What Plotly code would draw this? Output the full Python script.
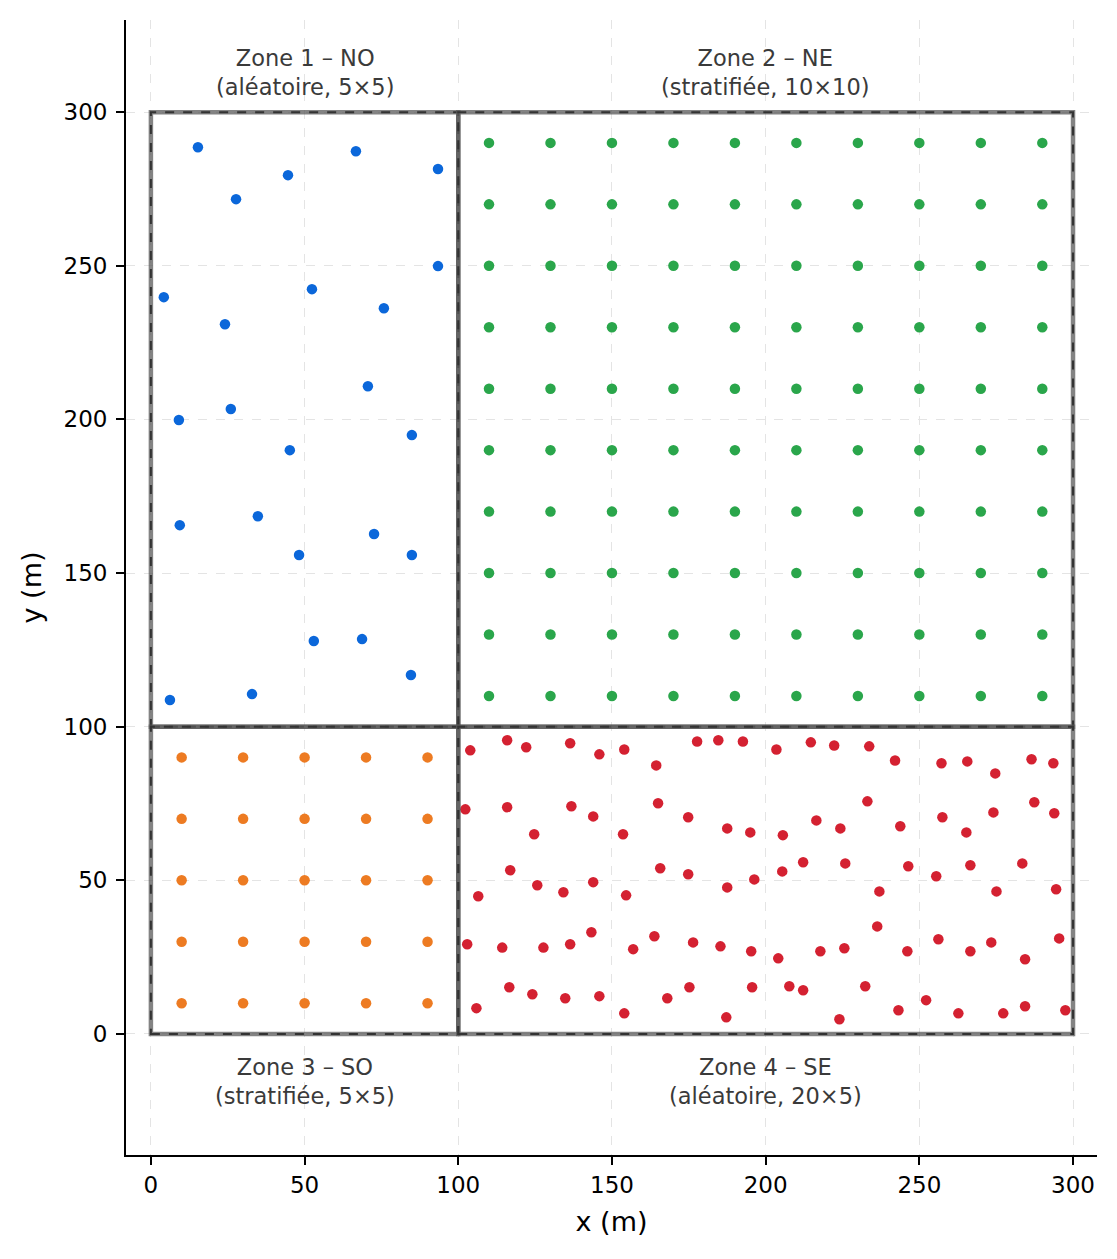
import plotly.graph_objects as go

# Zone 1 - random sampling (25 points)
z1_x = [15.3, 27.7, 44.6, 66.7, 93.4, 93.4, 4.2, 24.1, 52.4, 75.8, 70.6, 26.0, 9.1,
        45.2, 84.9, 9.4, 34.8, 48.2, 72.6, 84.9, 53.0, 68.7, 84.6, 6.2, 32.9]
z1_y = [288.6, 271.7, 279.5, 287.3, 281.5, 249.9, 239.8, 231.0, 242.4, 236.2, 210.8, 203.4, 199.8,
        190.0, 194.9, 165.6, 168.5, 155.9, 162.7, 155.9, 127.9, 128.5, 116.8, 108.7, 110.6]

# Zone 2 - stratified 10x10 grid
z2_cols = [110, 130, 150, 170, 190, 210, 230, 250, 270, 290]
z2_rows = [110, 130, 150, 170, 190, 210, 230, 250, 270, 290]

# Zone 3 - stratified 5x5 grid
z3_cols = [10, 30, 50, 70, 90]
z3_rows = [10, 30, 50, 70, 90]

# Zone 4 - random sampling (100 points)
z4_x = [103.9, 115.9, 122.1, 136.4, 145.9, 154.0, 164.4, 177.7, 184.6, 192.6,
        102.3, 115.9, 136.8, 143.9, 124.7, 153.6, 165.0, 174.8, 187.5, 195.0,
        116.9, 106.5, 125.7, 134.2, 143.9, 154.6, 165.7, 174.8, 187.5, 196.3,
        102.9, 114.3, 127.7, 136.4, 143.3, 156.9, 163.8, 176.4, 185.3, 195.3,
        105.9, 116.6, 124.1, 134.8, 145.9, 154.0, 168.0, 175.2, 187.2, 195.6,
        203.5, 214.7, 222.3, 233.7, 242.1, 257.2, 265.6, 274.7, 286.5, 293.6,
        205.6, 216.5, 224.3, 233.1, 243.8, 257.5, 265.3, 274.1, 287.4, 293.9,
        205.4, 212.2, 225.9, 237.0, 246.4, 255.5, 266.6, 275.1, 283.5, 294.5,
        236.3, 204.1, 217.8, 225.6, 246.1, 256.2, 266.6, 273.4, 284.4, 295.5,
        207.7, 212.2, 224.0, 232.4, 243.2, 252.2, 262.7, 277.3, 284.4, 297.5]
z4_y = [92.3, 95.6, 93.3, 94.6, 91.0, 92.6, 87.4, 95.2, 95.6, 95.2,
        73.1, 73.8, 74.1, 70.8, 65.0, 65.0, 75.1, 70.5, 66.9, 65.6,
        53.3, 44.8, 48.4, 46.1, 49.4, 45.1, 53.9, 52.0, 47.7, 50.3,
        29.2, 28.1, 28.1, 29.2, 33.1, 27.6, 31.8, 29.8, 28.5, 26.9,
        8.4, 15.2, 12.9, 11.6, 12.3, 6.7, 11.6, 15.2, 5.4, 15.2,
        92.6, 94.9, 93.9, 93.6, 89.0, 88.1, 88.7, 84.8, 89.4, 88.1,
        64.7, 69.5, 66.9, 75.7, 67.6, 70.5, 65.6, 72.1, 75.4, 71.8,
        52.9, 55.9, 55.5, 46.4, 54.6, 51.3, 54.9, 46.4, 55.5, 47.1,
        35.0, 24.6, 26.9, 27.9, 26.9, 30.8, 26.9, 29.8, 24.3, 31.1,
        15.5, 14.2, 4.8, 15.5, 7.7, 11.0, 6.7, 6.7, 9.0, 7.7]

# zone boxes (x0, x1, y0, y1) and labels
zones = [(0, 100, 100, 300), (100, 300, 100, 300), (0, 100, 0, 100), (100, 300, 0, 100)]
labels = ["Zone 1 – NO<br>(aléatoire, 5×5)", "Zone 2 – NE<br>(stratifiée, 10×10)",
          "Zone 3 – SO<br>(stratifiée, 5×5)", "Zone 4 – SE<br>(aléatoire, 20×5)"]
label_x = [50, 200, 50, 200]
label_y = [313, 313, -15.5, -15.5]

colors = ["#0b67da", "#2aa64b", "#ed7b22", "#d42131"]

z2_x = [c for r in z2_rows for c in z2_cols]
z2_y = [r for r in z2_rows for c in z2_cols]
z3_x = [c for r in z3_rows for c in z3_cols]
z3_y = [r for r in z3_rows for c in z3_cols]

fig = go.Figure()

# zone outlines: translucent solid line under a dark dashed one
for x0, x1, y0, y1 in zones:
    fig.add_shape(type="rect", x0=x0, x1=x1, y0=y0, y1=y1, layer="above",
                  line=dict(color="rgba(90,90,90,0.75)", width=4.5))
    fig.add_shape(type="rect", x0=x0, x1=x1, y0=y0, y1=y1, layer="above",
                  line=dict(color="#333333", width=2, dash="dash"))

for xs, ys, col in [(z1_x, z1_y, colors[0]), (z2_x, z2_y, colors[1]),
                    (z3_x, z3_y, colors[2]), (z4_x, z4_y, colors[3])]:
    fig.add_trace(go.Scatter(x=xs, y=ys, mode="markers", showlegend=False,
                             marker=dict(color=col, size=10.5, line=dict(width=0))))

for t, lx, ly in zip(labels, label_x, label_y):
    fig.add_annotation(x=lx, y=ly, xref="x", yref="y", text=t, showarrow=False,
                       font=dict(size=22.5, color="#3a3a3a"), align="center")

axis_common = dict(showgrid=True, gridcolor="#e4e4e4", griddash="dash", gridwidth=1.3,
                   zeroline=False, showline=True, linecolor="black", linewidth=1.8,
                   ticks="outside", ticklen=8, tickwidth=1.8, tickcolor="black",
                   tickfont=dict(size=23, color="black"), tickvals=[0, 50, 100, 150, 200, 250, 300])

fig.update_xaxes(range=[-8.1, 307.8], title=dict(text="x (m)", font=dict(size=27), standoff=16),
                 **axis_common)
fig.update_yaxes(range=[-39.4, 330], title=dict(text="y (m)", font=dict(size=27), standoff=14),
                 ticklabelstandoff=4, **axis_common)

# page body adds an 8px margin, so the figure is shifted by 8px
fig.update_layout(width=1109, height=1251, plot_bgcolor="white", paper_bgcolor="white",
                  margin=dict(l=118, r=20, t=12, b=104),
                  font=dict(family="DejaVu Sans", color="black"))

fig.write_html("out.html")
